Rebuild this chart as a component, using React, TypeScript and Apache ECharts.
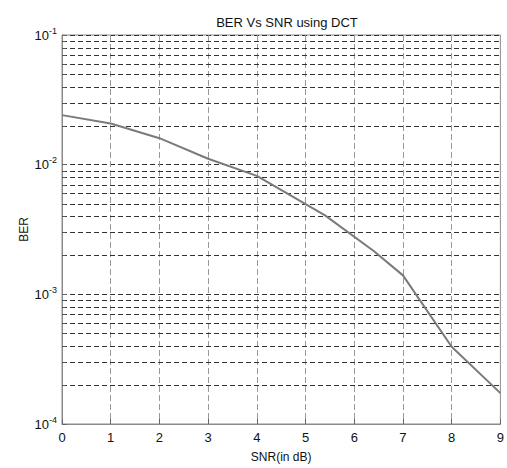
import React, { useEffect, useRef } from "react";
import * as echarts from "echarts";

const snrValues = [0, 1, 2, 3, 4, 5.4, 6.4, 7, 8, 9];
const berValues = [0.0241, 0.0208, 0.016, 0.0111, 0.0082, 0.00406, 0.00216, 0.0014, 0.000394, 0.000173];
const decades = [1e-4, 1e-3, 1e-2];
const minorMultipliers = [2, 3, 4, 5, 6, 7, 8, 9];

const titleText = "BER Vs SNR using DCT";
const xName = "SNR(in dB)";
const yName = "BER";

export default function App() {
  const ref = useRef<HTMLDivElement>(null);
  useEffect(() => {
    if (!ref.current) return;
    const chart = echarts.init(ref.current, undefined, { renderer: "svg" });
    const minorValues: number[] = [];
    decades.forEach((d) => minorMultipliers.forEach((m) => minorValues.push(+(d * m).toPrecision(3))));
    const font = "Liberation Sans, Arial, sans-serif";
    const xMin = 0;
    const xMax = 9;
    chart.setOption({
      animation: false,
      backgroundColor: "#ffffff",
      title: {
        text: titleText,
        left: 282,
        textAlign: "center",
        top: 11,
        textStyle: { fontSize: 13, fontWeight: "normal", color: "#111", fontFamily: font },
      },
      grid: {
        left: 62,
        right: 5,
        top: 35,
        bottom: 40,
        show: true,
        borderColor: "#8a8a8a",
        borderWidth: 1,
        backgroundColor: "transparent",
      },
      xAxis: {
        type: "value",
        min: xMin,
        max: xMax,
        interval: 1,
        name: xName,
        nameLocation: "middle",
        nameGap: 27,
        nameTextStyle: { fontSize: 12, color: "#111", fontFamily: font },
        axisLine: { lineStyle: { color: "#8a8a8a" } },
        axisTick: { inside: true, length: 5, lineStyle: { color: "#666" } },
        axisLabel: { fontSize: 13, color: "#111", margin: 7, fontFamily: font },
        splitLine: { show: true, lineStyle: { color: "#9a9a9a", type: [6, 3], width: 1 } },
      },
      yAxis: {
        type: "log",
        logBase: 10,
        min: 1e-4,
        max: 1e-1,
        name: yName,
        nameLocation: "middle",
        nameGap: 32,
        nameMoveOverlap: false,
        nameTextStyle: { fontSize: 12, color: "#111", fontFamily: font },
        axisLine: { lineStyle: { color: "#8a8a8a" } },
        axisTick: { inside: true, length: 5, lineStyle: { color: "#666" } },
        axisLabel: {
          fontFamily: font,
          margin: 5,
          formatter: (v: number) => `{b|10}{s|${Math.round(Math.log10(v))}}`,
          rich: {
            b: { fontSize: 13, color: "#111", fontFamily: font },
            s: { fontSize: 9, color: "#111", fontFamily: font, padding: [0, 0, 9, 0] },
          },
        },
        splitLine: { show: true, lineStyle: { color: "#333", type: [5, 3], width: 1 } },
      },
      series: [
        {
          type: "custom",
          silent: true,
          z: 1,
          data: minorValues.map((v) => [v]),
          renderItem: (params: any, api: any) => {
            const v = api.value(0);
            const p0 = api.coord([xMin, v]);
            const p1 = api.coord([xMax, v]);
            const y = Math.round(p0[1]) + 0.5;
            return {
              type: "group",
              children: [
                {
                  type: "line",
                  shape: { x1: p0[0], y1: y, x2: p1[0], y2: y },
                  style: { stroke: "#333", lineWidth: 1, lineDash: [5, 3] },
                },
                {
                  type: "line",
                  shape: { x1: p0[0], y1: y, x2: p0[0] + 4, y2: y },
                  style: { stroke: "#555", lineWidth: 1 },
                },
              ],
            };
          },
        },
        {
          type: "line",
          data: snrValues.map((x, i) => [x, berValues[i]]),
          showSymbol: false,
          symbol: "none",
          lineStyle: { color: "#7a7a7a", width: 2 },
          z: 5,
        },
      ],
    });
    return () => chart.dispose();
  }, []);
  return <div ref={ref} style={{ position: "fixed", left: 0, top: 0, width: 507, height: 468 }} />;
}
